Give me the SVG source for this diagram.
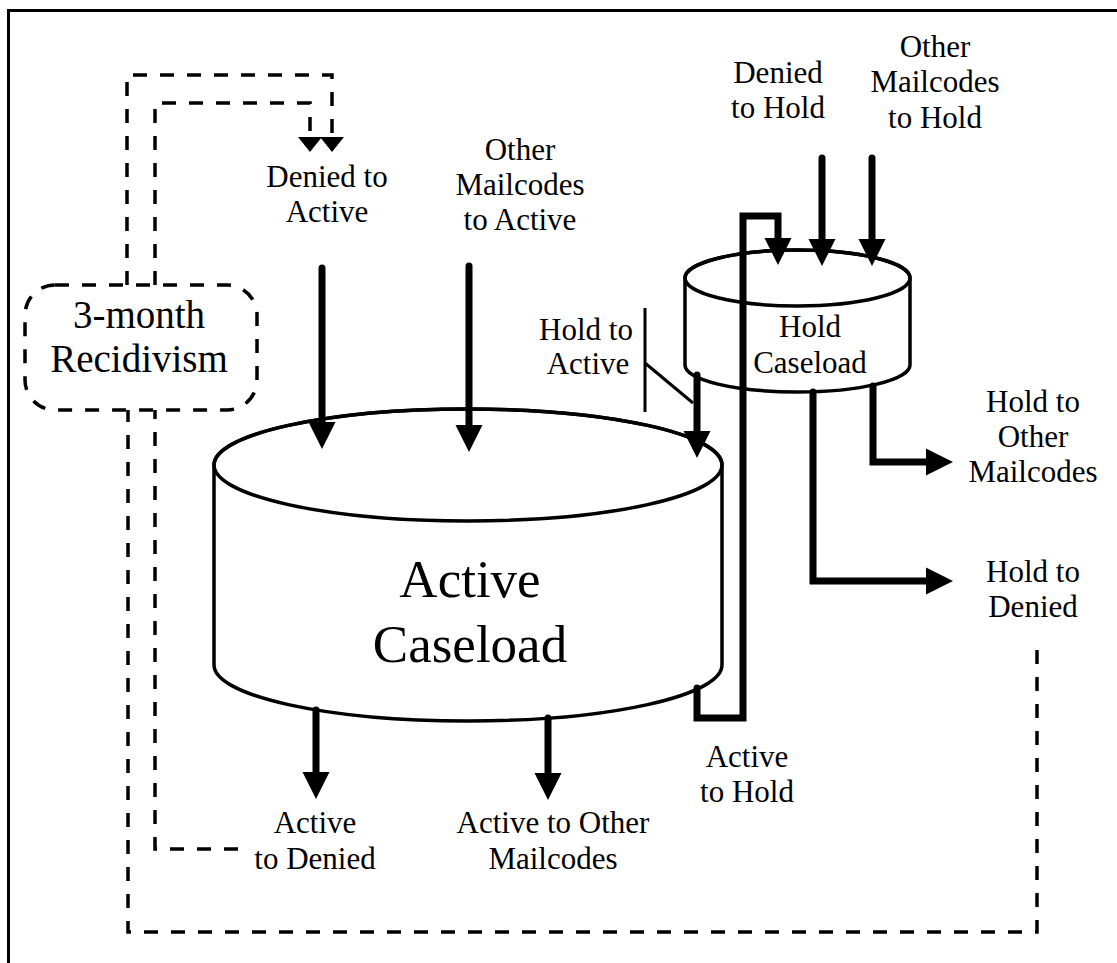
<svg xmlns="http://www.w3.org/2000/svg" width="1117" height="963" viewBox="0 0 1117 963">
  <style>
    text { font-family: 'Liberation Serif', 'Times New Roman', Times, 'DejaVu Serif', serif; fill: #000; text-anchor: middle; }
    .lbl { font-size: 31px; }
    .big { font-size: 53px; }
    .mid { font-size: 39px; }
    .tank { fill: #fff; stroke: #000; stroke-width: 3.5; }
    .rim { fill: none; stroke: #000; stroke-width: 3.5; }
    .flow { fill: none; stroke: #000; stroke-width: 7; stroke-linecap: round; stroke-linejoin: miter; }
    .loop { fill: none; stroke: #000; stroke-width: 3.5; stroke-dasharray: 14 13; }
    .thin { fill: none; stroke: #000; stroke-width: 3; }
  </style>
  <defs>
    <marker id="head" markerUnits="userSpaceOnUse" markerWidth="30" markerHeight="30" viewBox="0 -15 30 30" refX="1" refY="0" orient="auto">
      <path d="M0,-13.5 L27,0 L0,13.5 z" fill="#000"/>
    </marker>
    <marker id="dhead" markerUnits="userSpaceOnUse" markerWidth="26" markerHeight="26" viewBox="0 -13 26 26" refX="1" refY="0" orient="auto">
      <path d="M0,-12 L15,0 L0,12 z" fill="#000"/>
    </marker>
  </defs>

  <rect width="1117" height="963" fill="#fff"/>
  <!-- outer frame -->
  <rect x="8.5" y="10.5" width="1130" height="980" fill="none" stroke="#000" stroke-width="3"/>

  <!-- Active Caseload tank -->
  <g id="active-caseload">
    <path class="tank" d="M214,465 V665 A254,56 0 0 0 722,665 V465 A254,56 0 0 0 214,465 z"/>
    <ellipse class="rim" cx="468" cy="465" rx="254" ry="56"/>
    <text class="big" x="470" y="597" font-family="Liberation Serif, serif">Active</text>
    <text class="big" x="470" y="662" font-family="Liberation Serif, serif">Caseload</text>
  </g>

  <!-- Hold Caseload tank -->
  <g id="hold-caseload">
    <path class="tank" d="M685,278 V365 A112.5,27 0 0 0 910,365 V278 A112.5,28 0 0 0 685,278 z"/>
    <ellipse class="rim" cx="797.5" cy="278" rx="112.5" ry="28"/>
    <text class="lbl" x="810" y="337">Hold</text>
    <text class="lbl" x="810" y="373">Caseload</text>
  </g>

  <!-- 3-month Recidivism -->
  <g id="recidivism">
    <rect class="loop" x="25" y="285" width="232" height="125" rx="30" ry="30"/>
    <text class="mid" x="139" y="328">3-month</text>
    <text class="mid" x="139" y="372">Recidivism</text>
  </g>

  <!-- flow labels -->
  <g id="label-denied-to-active">
    <text class="lbl" x="327" y="187">Denied to</text>
    <text class="lbl" x="327" y="222">Active</text>
  </g>
  <g id="label-other-to-active">
    <text class="lbl" x="520" y="160">Other</text>
    <text class="lbl" x="520" y="195">Mailcodes</text>
    <text class="lbl" x="520" y="230">to Active</text>
  </g>
  <g id="label-hold-to-active">
    <text class="lbl" x="586" y="340">Hold to</text>
    <text class="lbl" x="588" y="374">Active</text>
  </g>
  <g id="label-denied-to-hold">
    <text class="lbl" x="778" y="83">Denied</text>
    <text class="lbl" x="778" y="118">to Hold</text>
  </g>
  <g id="label-other-to-hold">
    <text class="lbl" x="935" y="57">Other</text>
    <text class="lbl" x="935" y="92">Mailcodes</text>
    <text class="lbl" x="935" y="128">to Hold</text>
  </g>
  <g id="label-hold-to-other">
    <text class="lbl" x="1033" y="412">Hold to</text>
    <text class="lbl" x="1033" y="447">Other</text>
    <text class="lbl" x="1033" y="482">Mailcodes</text>
  </g>
  <g id="label-hold-to-denied">
    <text class="lbl" x="1033" y="582">Hold to</text>
    <text class="lbl" x="1033" y="617">Denied</text>
  </g>
  <g id="label-active-to-hold">
    <text class="lbl" x="747" y="767">Active</text>
    <text class="lbl" x="747" y="802">to Hold</text>
  </g>
  <g id="label-active-to-denied">
    <text class="lbl" x="315" y="833">Active</text>
    <text class="lbl" x="315" y="869">to Denied</text>
  </g>
  <g id="label-active-to-other">
    <text class="lbl" x="553" y="833">Active to Other</text>
    <text class="lbl" x="553" y="869">Mailcodes</text>
  </g>

  <!-- connectors -->
  <g id="connectors">
    <!-- inflows to Active -->
    <path class="flow" d="M322,268 V423" marker-end="url(#head)"/>
    <path class="flow" d="M469,266 V426" marker-end="url(#head)"/>
    <path class="flow" d="M697,375 V432" marker-end="url(#head)"/>
    <!-- inflows to Hold -->
    <path class="flow" d="M822,158 V240" marker-end="url(#head)"/>
    <path class="flow" d="M872,158 V240" marker-end="url(#head)"/>
    <!-- Active to Hold -->
    <path class="flow" d="M697,688 V718 H743 V216 H778 V239" marker-end="url(#head)"/>
    <!-- outflows from Hold -->
    <path class="flow" d="M873,386 V462 H927" marker-end="url(#head)"/>
    <path class="flow" d="M813,392 V581 H927" marker-end="url(#head)"/>
    <!-- outflows from Active -->
    <path class="flow" d="M316,710 V773" marker-end="url(#head)"/>
    <path class="flow" d="M548,718 V774" marker-end="url(#head)"/>
    <!-- callout for Hold to Active -->
    <path class="thin" d="M645,308 V412 M645,363 L693,403"/>
    <!-- recidivism loops -->
    <path class="loop" d="M127,285 V75 H332 V138" marker-end="url(#dhead)"/>
    <path class="loop" d="M155,285 V103 H310 V138" marker-end="url(#dhead)"/>
    <path class="loop" d="M238,849 H155 V410"/>
    <path class="loop" d="M1037,650 V932 H128 V410"/>
  </g>
</svg>
